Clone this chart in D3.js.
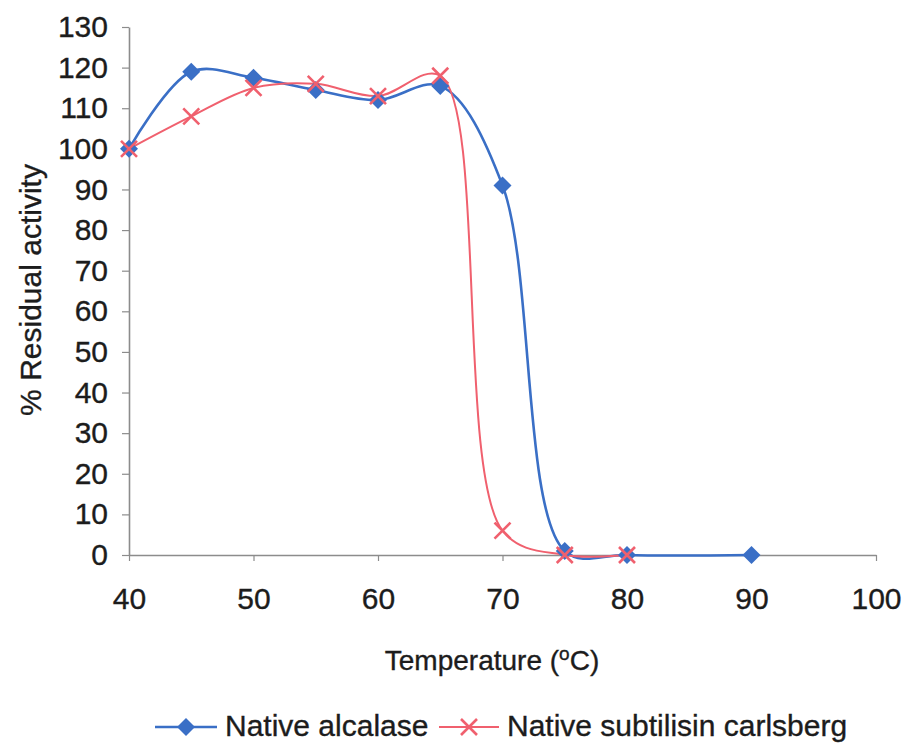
<!DOCTYPE html>
<html>
<head>
<meta charset="utf-8">
<script src="https://cdn.jsdelivr.net/npm/d3@7"></script>
<style>
  body { margin: 0; background: #fff; }
  svg { display: block; font-family: "Liberation Sans", Arial, sans-serif; }
  text { stroke: #1c1c1c; stroke-width: 0.35px; }
</style>
</head>
<body>
<div id="svg-container"></div>
<script>
// data
const alcalaseTemps = [40, 45, 50, 55, 60, 65, 70, 75, 80, 90];
const alcalase = [100, 119, 117.5, 114.5, 112, 115.5, 91, 1, 0, 0];
const carlsbergTemps = [40, 45, 50, 55, 60, 65, 70, 75, 80];
const carlsberg = [100, 108, 115, 116, 113, 118, 6, 0, 0];
const xTicks = [40, 50, 60, 70, 80, 90, 100];
const yTicks = [0, 10, 20, 30, 40, 50, 60, 70, 80, 90, 100, 110, 120, 130];
const seriesNames = ["Native alcalase", "Native subtilisin carlsberg"];

const width = 904, height = 744;
const blue = "#3a6fc6", red = "#f0606e", axisGrey = "#8c8c8c", ink = "#1c1c1c";

const svg = d3.select("#svg-container").append("svg")
    .attr("width", width)
    .attr("height", height);

const x = d3.scaleLinear().domain([40, 100]).range([129, 876]);
const y = d3.scaleLinear().domain([0, 130]).range([555, 27]);

// y axis
const yAxis = svg.append("g")
    .attr("transform", `translate(${x(40)},0)`)
    .call(d3.axisLeft(y).tickValues(yTicks).tickSize(7).tickSizeOuter(0).tickPadding(14));

// x axis
const xAxis = svg.append("g")
    .attr("transform", `translate(0,${y(0)})`)
    .call(d3.axisBottom(x).tickValues(xTicks).tickSize(6).tickSizeOuter(0).tickPadding(27));

[yAxis, xAxis].forEach(g => {
    g.select(".domain").attr("stroke", axisGrey).attr("stroke-width", 1.6);
    g.selectAll(".tick line").attr("stroke", axisGrey).attr("stroke-width", 1.2);
    g.selectAll(".tick text")
        .attr("fill", ink)
        .style("font-size", "30px");
});

// axis titles
svg.append("text")
    .attr("transform", `translate(41,290) rotate(-90)`)
    .attr("text-anchor", "middle")
    .attr("fill", ink)
    .style("font-size", "30px")
    .text("% Residual activity");

const xTitle = svg.append("text")
    .attr("x", 492)
    .attr("y", 670)
    .attr("text-anchor", "middle")
    .attr("fill", ink)
    .style("font-size", "28px");
xTitle.append("tspan").text("Temperature (");
xTitle.append("tspan").attr("dy", -10).style("font-size", "19px").text("o");
xTitle.append("tspan").attr("dy", 10).text("C)");

// smoothed lines like the spreadsheet chart
const line = d3.line()
    .x(d => x(d[0]))
    .y(d => y(d[1]))
    .curve(d3.curveCatmullRom.alpha(0.5));

const alcalasePts = alcalaseTemps.map((t, i) => [t, alcalase[i]]);
const carlsbergPts = carlsbergTemps.map((t, i) => [t, carlsberg[i]]);

svg.append("path")
    .datum(alcalasePts)
    .attr("fill", "none")
    .attr("stroke", blue)
    .attr("stroke-width", 2.6)
    .attr("d", line);

svg.append("path")
    .datum(carlsbergPts)
    .attr("fill", "none")
    .attr("stroke", red)
    .attr("stroke-width", 2)
    .attr("d", line);

// markers
const diamond = (g, cx, cy) => {
    const r = 9;
    g.append("path")
        .attr("d", `M${cx},${cy - r}L${cx + r},${cy}L${cx},${cy + r}L${cx - r},${cy}Z`)
        .attr("fill", blue);
};
const cross = (g, cx, cy) => {
    const r = 8;
    g.append("path")
        .attr("d", `M${cx - r},${cy - r}L${cx + r},${cy + r}M${cx - r},${cy + r}L${cx + r},${cy - r}`)
        .attr("stroke", red)
        .attr("stroke-width", 2.6)
        .attr("fill", "none");
};

const marks = svg.append("g");
alcalasePts.forEach(d => diamond(marks, x(d[0]), y(d[1])));
carlsbergPts.forEach(d => cross(marks, x(d[0]), y(d[1])));

// legend
const legend = svg.append("g");
const legY = 727;
legend.append("line")
    .attr("x1", 155).attr("x2", 217)
    .attr("y1", legY).attr("y2", legY)
    .attr("stroke", blue).attr("stroke-width", 2.6);
diamond(legend, 186, legY);
legend.append("text")
    .attr("x", 225).attr("y", 736)
    .attr("fill", ink)
    .style("font-size", "30px")
    .text(seriesNames[0]);

legend.append("line")
    .attr("x1", 439).attr("x2", 499)
    .attr("y1", legY).attr("y2", legY)
    .attr("stroke", red).attr("stroke-width", 2);
cross(legend, 469, legY);
legend.append("text")
    .attr("x", 507).attr("y", 736)
    .attr("fill", ink)
    .style("font-size", "30px")
    .text(seriesNames[1]);
</script>
</body>
</html>
